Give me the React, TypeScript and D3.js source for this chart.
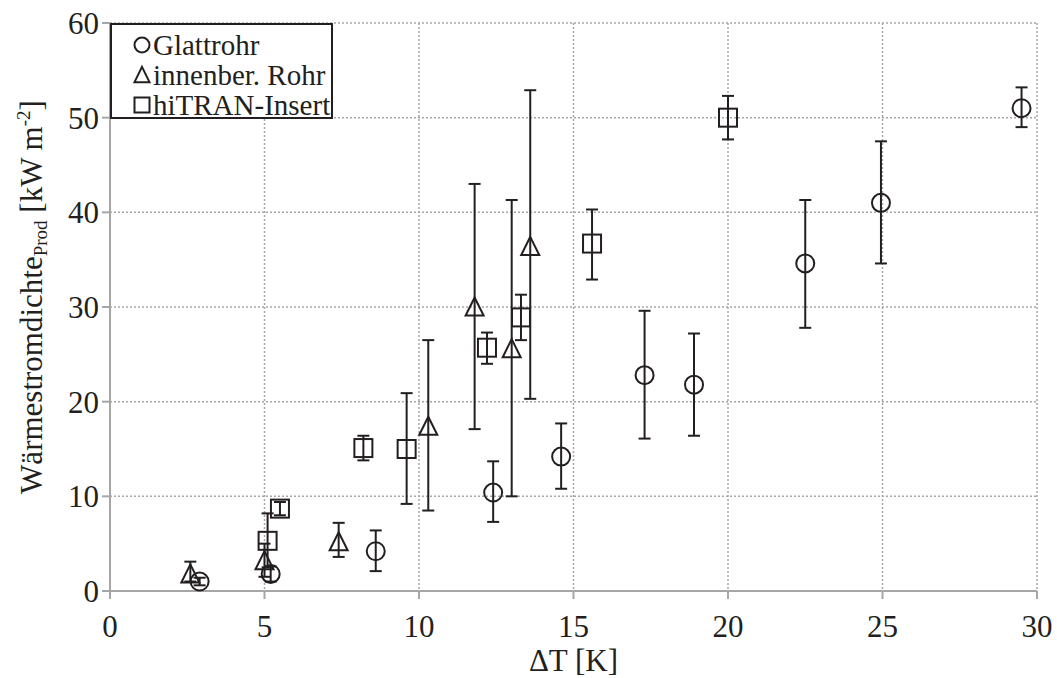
import React from "react";
import * as d3 from "d3";

type Pt = { x: number; y: number; lo: number; hi: number };

const glattX = [2.9, 5.2, 8.6, 12.4, 14.6, 17.3, 18.9, 22.5, 24.95, 29.5];
const glattY = [1.0, 1.8, 4.2, 10.4, 14.2, 22.8, 21.8, 34.6, 41.0, 51.0];
const glattLo = [0.6, 1.0, 2.1, 7.3, 10.8, 16.1, 16.4, 27.8, 34.6, 49.0];
const glattHi = [1.4, 2.6, 6.4, 13.7, 17.7, 29.6, 27.2, 41.3, 47.5, 53.2];

const rohrX = [2.6, 5.0, 7.4, 10.3, 11.8, 13.0, 13.6];
const rohrY = [1.8, 3.2, 5.2, 17.4, 30.0, 25.6, 36.4];
const rohrLo = [1.0, 1.5, 3.6, 8.5, 17.1, 10.0, 20.3];
const rohrHi = [3.1, 5.0, 7.2, 26.5, 43.0, 41.3, 52.9];

const hitranX = [5.1, 5.5, 8.2, 9.6, 12.2, 13.3, 15.6, 20.0];
const hitranY = [5.3, 8.7, 15.1, 15.0, 25.7, 28.9, 36.7, 50.0];
const hitranLo = [2.5, 8.0, 13.8, 9.2, 24.0, 26.5, 32.9, 47.7];
const hitranHi = [8.2, 9.4, 16.4, 20.9, 27.3, 31.3, 40.3, 52.3];

const xTicks = [0, 5, 10, 15, 20, 25, 30];
const yTicks = [0, 10, 20, 30, 40, 50, 60];
const legendLabels = ["Glattrohr", "innenber. Rohr", "hiTRAN-Insert"];

const zip = (xs: number[], ys: number[], lo: number[], hi: number[]): Pt[] =>
  xs.map((x, i) => ({ x, y: ys[i], lo: lo[i], hi: hi[i] }));

const series = [
  { name: legendLabels[0], shape: "circle", pts: zip(glattX, glattY, glattLo, glattHi) },
  { name: legendLabels[1], shape: "triangle", pts: zip(rohrX, rohrY, rohrLo, rohrHi) },
  { name: legendLabels[2], shape: "square", pts: zip(hitranX, hitranY, hitranLo, hitranHi) },
];

const W = 1057;
const H = 678;
const L = 110, R = 1037, T = 23, B = 591;
const INK = "#231f20";
const GRID = "#a6a6a6";
const txt = { fontFamily: "Liberation Serif" } as React.CSSProperties;

function Marker({ shape, cx, cy, s }: { shape: string; cx: number; cy: number; s: number }) {
  const sw = 2;
  if (shape === "circle") return <circle cx={cx} cy={cy} r={s / 2} fill="none" stroke={INK} strokeWidth={sw} />;
  if (shape === "square")
    return <rect x={cx - s / 2} y={cy - s / 2} width={s} height={s} fill="none" stroke={INK} strokeWidth={sw} />;
  const h = s * 0.95;
  return (
    <path
      d={`M${cx},${cy - h / 2 - 1} L${cx + s / 2},${cy + h / 2} L${cx - s / 2},${cy + h / 2} Z`}
      fill="none"
      stroke={INK}
      strokeWidth={sw}
      strokeLinejoin="miter"
    />
  );
}

export default function App() {
  const x = d3.scaleLinear().domain([0, 30]).range([L, R]);
  const y = d3.scaleLinear().domain([0, 60]).range([B, T]);
  const ms = 18;
  const cap = 6;

  return (
    <svg width={W} height={H} style={{ position: "absolute", left: 0, top: 0, background: "#fff" }}>
      <rect x={0} y={0} width={W} height={H} fill="#fff" />
      {yTicks.filter((t) => t !== 0).map((t) => (
        <line key={"gy" + t} x1={L} x2={R} y1={y(t)} y2={y(t)} stroke={GRID} strokeWidth={1.5} strokeDasharray="2,2" />
      ))}
      {xTicks.filter((t) => t !== 0).map((t) => (
        <line key={"gx" + t} x1={x(t)} x2={x(t)} y1={T} y2={B} stroke={GRID} strokeWidth={1.5} strokeDasharray="2,2" />
      ))}
      <line x1={L} x2={L} y1={T} y2={B + 8} stroke={GRID} strokeWidth={2} />
      <line x1={L - 8} x2={R} y1={B} y2={B} stroke={GRID} strokeWidth={2} />
      {xTicks.map((t) => (
        <line key={"tx" + t} x1={x(t)} x2={x(t)} y1={B} y2={B + 8} stroke={GRID} strokeWidth={2} />
      ))}
      {yTicks.map((t) => (
        <line key={"ty" + t} x1={L - 8} x2={L} y1={y(t)} y2={y(t)} stroke={GRID} strokeWidth={2} />
      ))}
      {xTicks.map((t) => (
        <text key={"lx" + t} x={x(t)} y={B + 46} textAnchor="middle" style={txt} fontSize={31} fill={INK}>
          {t}
        </text>
      ))}
      {yTicks.map((t) => (
        <text key={"ly" + t} x={L - 11} y={y(t) + 11} textAnchor="end" style={txt} fontSize={31} fill={INK}>
          {t}
        </text>
      ))}
      <text x={(L + R) / 2} y={671} textAnchor="middle" style={txt} fontSize={31} fill={INK}>
        ΔT [K]
      </text>
      <text
        transform={`translate(42,297) rotate(-90)`}
        textAnchor="middle"
        style={txt}
        fontSize={31}
        fill={INK}
      >
        Wärmestromdichte
        <tspan fontSize={19} dy={5}>Prod</tspan>
        <tspan dy={-5}> [kW m</tspan>
        <tspan fontSize={19} dy={-12}>-2</tspan>
        <tspan dy={12}>]</tspan>
      </text>
      {series.map((s) =>
        s.pts.map((p, i) => (
          <g key={s.name + i}>
            <line x1={x(p.x)} x2={x(p.x)} y1={y(p.lo)} y2={y(p.hi)} stroke={INK} strokeWidth={2} />
            <line x1={x(p.x) - cap} x2={x(p.x) + cap} y1={y(p.lo)} y2={y(p.lo)} stroke={INK} strokeWidth={2} />
            <line x1={x(p.x) - cap} x2={x(p.x) + cap} y1={y(p.hi)} y2={y(p.hi)} stroke={INK} strokeWidth={2} />
            <Marker shape={s.shape} cx={x(p.x)} cy={y(p.y)} s={ms} />
          </g>
        ))
      )}
      <rect x={111} y={24} width={221} height={94} fill="#fff" stroke={INK} strokeWidth={2} />
      {series.map((s, i) => (
        <g key={"leg" + i}>
          <Marker shape={s.shape} cx={142} cy={45 + i * 30} s={15} />
          <text x={153} y={55 + i * 30} style={txt} fontSize={29} fill={INK}>
            {s.name}
          </text>
        </g>
      ))}
    </svg>
  );
}
